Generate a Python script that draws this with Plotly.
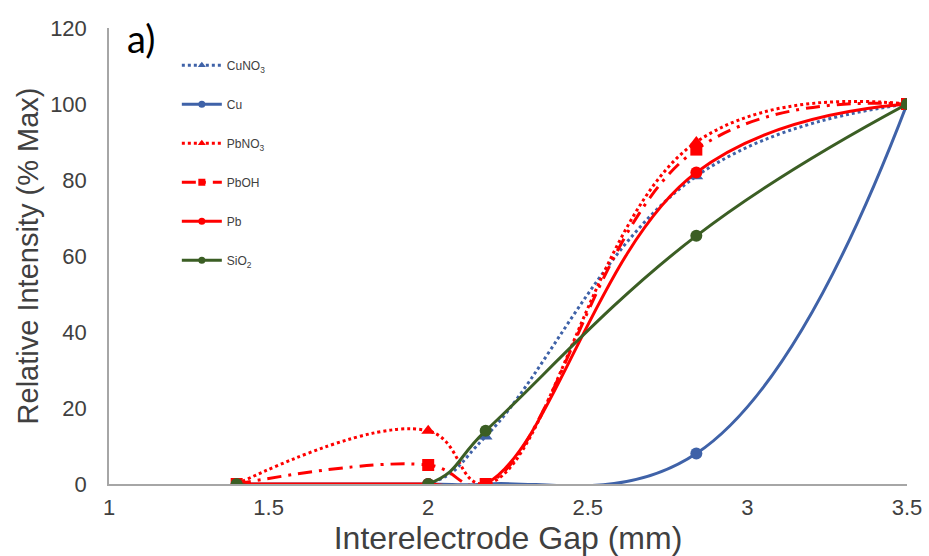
import plotly.graph_objects as go

gap = [1.4, 2.0, 2.18, 2.84, 3.5]
cuno3 = [0, 0, 12.5, 81, 100]
cu = [0, 0, 0, 8, 100]
pbno3 = [0, 14, 0, 90, 100]
pboh = [0, 5, 0, 88, 100]
pb = [0, 0, 0, 82, 100]
sio2 = [0, 0, 14, 65.3, 100]

names = ["CuNO<sub>3</sub>", "Cu", "PbNO<sub>3</sub>", "PbOH", "Pb", "SiO<sub>2</sub>"]
values = [cuno3, cu, pbno3, pboh, pb, sio2]
colors = ["#3F62A8", "#3F62A8", "#FF0000", "#FF0000", "#FF0000", "#3B5E24"]
dashes = ["dot", "solid", "dot", "14px,7px,3px,7px", "solid", "solid"]
symbols = ["triangle-up", "circle", "triangle-up", "square", "circle", "circle"]

fig = go.Figure()
for i, (n, v, c, d, s) in enumerate(zip(names, values, colors, dashes, symbols)):
    fig.add_trace(go.Scatter(
        x=gap, y=v, name=n, mode="lines+markers", showlegend=False,
        line=dict(color=c, width=3, dash=d, shape="spline", smoothing=1.2),
        marker=dict(symbol=s, size=12, color=c),
        legendgroup=str(i), cliponaxis=True,
    ))
# legend entries with smaller markers
for i, (n, c, d, s) in enumerate(zip(names, colors, dashes, symbols)):
    fig.add_trace(go.Scatter(
        x=[None], y=[None], name=n, mode="lines+markers", showlegend=True,
        line=dict(color=c, width=3, dash=d),
        marker=dict(symbol=s, size=7, color=c),
        legendgroup=str(i),
    ))

fig.update_layout(
    width=929, height=556,
    margin=dict(l=109, r=22, t=28, b=72, autoexpand=False),
    paper_bgcolor="white", plot_bgcolor="white",
    font=dict(family="Liberation Sans, Arial, sans-serif", color="#404040"),
    showlegend=True,
    legend=dict(x=0.085, y=0.95, xanchor="left", yanchor="top",
                font=dict(size=12, color="#404040"), tracegroupgap=20,
                bgcolor="rgba(0,0,0,0)", itemwidth=40),
    xaxis=dict(range=[1, 3.5], tickvals=[1, 1.5, 2, 2.5, 3, 3.5],
               ticktext=["1", "1.5", "2", "2.5", "3", "3.5"], automargin=False,
               showgrid=False, zeroline=False, showline=True, linecolor="#a6a6a6", linewidth=1.5,
               ticks="outside", ticklen=3, tickcolor="white", tickfont=dict(size=22, color="#404040"),
               title=dict(text="Interelectrode Gap (mm)", font=dict(size=32, color="#404040"), standoff=0)),
    yaxis=dict(range=[0, 120], tickvals=[0, 20, 40, 60, 80, 100, 120], automargin=False,
               showgrid=False, zeroline=False, showline=True, linecolor="#a6a6a6", linewidth=1.5,
               ticks="outside", ticklen=16, tickcolor="white", tickfont=dict(size=22, color="#404040"),
               title=dict(text="Relative Intensity (% Max)", font=dict(size=29, color="#404040"), standoff=3)),
)
fig.add_annotation(x=0.02, y=0.978, xref="paper", yref="paper", text="a)", showarrow=False,
                   xanchor="left", yanchor="middle",
                   font=dict(family="Lato, Open Sans, sans-serif", size=38, color="#000000"))

fig.write_html("out.html")
